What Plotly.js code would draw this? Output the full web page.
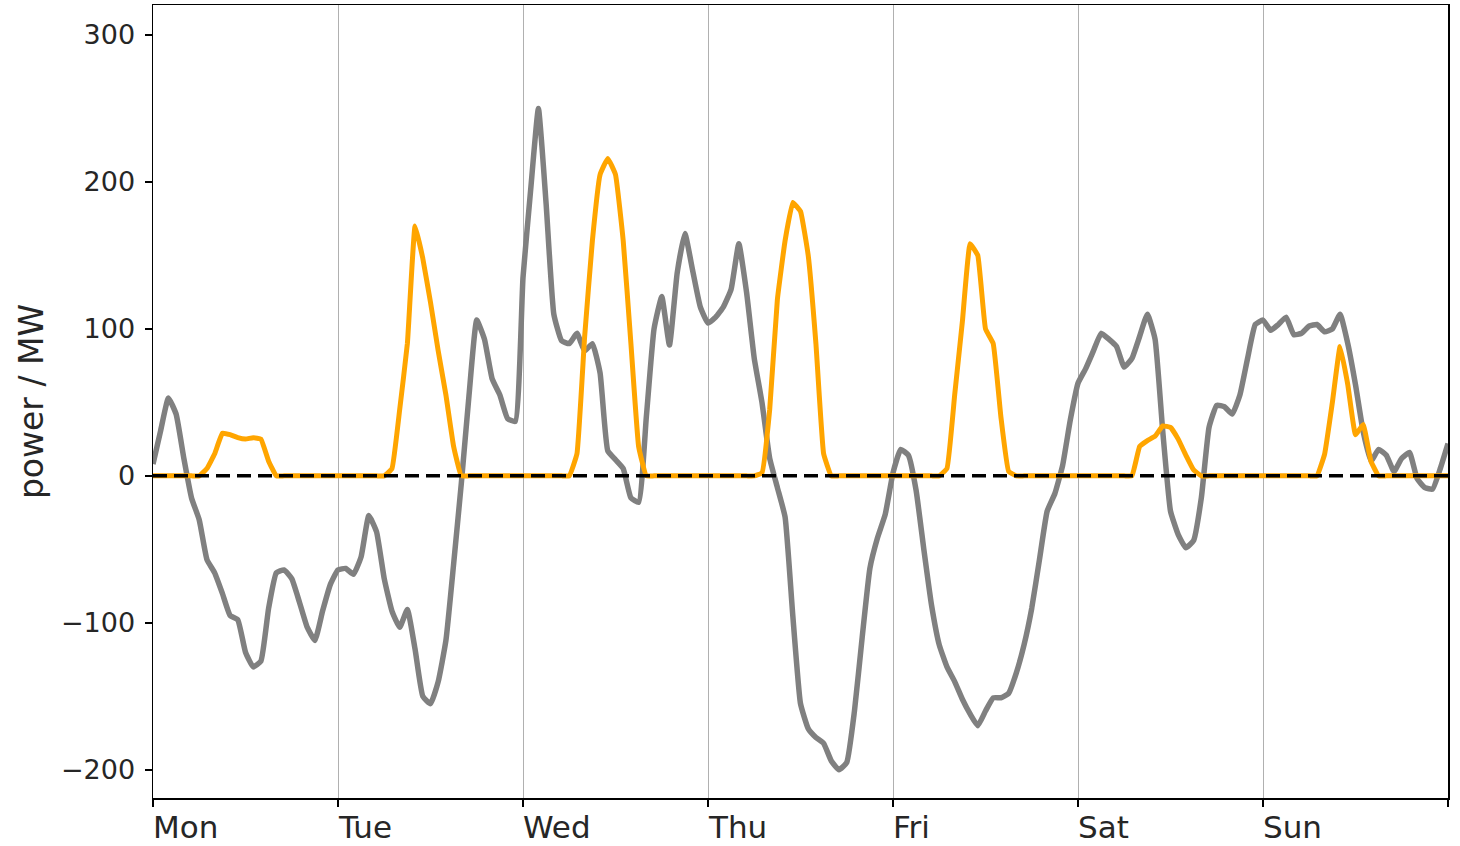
<!DOCTYPE html>
<html>
<head>
<meta charset="utf-8">
<script src="https://cdn.plot.ly/plotly-3.0.1.min.js"></script>
<style>
html, body { margin: 0; padding: 0; background: #ffffff; }
#chart { width: 1460px; height: 846px; }
</style>
</head>
<body>
<div id="chart"></div>
<script>
// Day labels and tick positions (hours from Monday 00:00)
const dayLabels = ['Mon', 'Tue', 'Wed', 'Thu', 'Fri', 'Sat', 'Sun'];
const dayTicks = [0, 24, 48, 72, 96, 120, 144, 168];

// y-axis ticks
const yTickVals = [-200, -100, 0, 100, 200, 300];
const yTickText = ['\u2212200', '\u2212100', '0', '100', '200', '300'];

// Grey series: net power, hourly (MW), Mon 00:00 .. next Mon 00:00
const netPower = [
  8, 31, 53, 42, 12, -15, -30, -57, -66, -80, -95, -98, -120, -130, -126, -90, -66, -64, -70, -86, -103, -112, -92, -74,
  -64, -63, -67, -55, -27, -38, -70, -92, -103, -91, -118, -150, -155, -140, -112, -60, -5, 55, 106, 93, 66, 55, 39, 37,
  135, 195, 250, 185, 110, 92, 90, 97, 85, 90, 70, 17, 11, 5, -15, -18, 40, 100, 122, 89, 138, 165, 140, 115,
  104, 108, 115, 127, 158, 125, 80, 50, 12, -8, -28, -95, -155, -172, -178, -182, -194, -200, -195, -160, -110, -63, -42, -26,
  2, 18, 14, -10, -50, -88, -115, -130, -140, -152, -162, -170, -160, -151, -151, -148, -134, -115, -90, -57, -24, -12, 7, 38,
  63, 73, 85, 97, 93, 88, 74, 80, 95, 110, 93, 30, -24, -40, -49, -44, -15, 33, 48, 47, 42, 55, 80, 103,
  106, 99, 103, 108, 96, 97, 102, 103, 98, 100, 110, 90, 62, 30, 10, 18, 14, 3, 12, 16, -2, -8, -9, 5,
  22
];

// Orange series: PV power, hourly (MW)
const pvPower = [
  0, 0, 0, 0, 0, 0, 0, 5, 15, 29, 28, 26, 25, 26, 25, 10, 0, 0, 0, 0, 0, 0, 0, 0,
  0, 0, 0, 0, 0, 0, 0, 5, 45, 90, 170, 148, 118, 85, 55, 20, 0, 0, 0, 0, 0, 0, 0, 0,
  0, 0, 0, 0, 0, 0, 0, 15, 95, 160, 205, 216, 205, 160, 90, 20, 0, 0, 0, 0, 0, 0, 0, 0,
  0, 0, 0, 0, 0, 0, 0, 2, 45, 120, 160, 186, 180, 150, 90, 15, 0, 0, 0, 0, 0, 0, 0, 0,
  0, 0, 0, 0, 0, 0, 0, 5, 55, 105, 158, 150, 100, 90, 40, 3, 0, 0, 0, 0, 0, 0, 0, 0,
  0, 0, 0, 0, 0, 0, 0, 0, 20, 24, 27, 34, 33, 25, 14, 4, 0, 0, 0, 0, 0, 0, 0, 0,
  0, 0, 0, 0, 0, 0, 0, 0, 15, 50, 88, 62, 28, 35, 10, 0, 0, 0, 0, 0, 0, 0, 0, 0,
  0
];

const hours = netPower.map((_, i) => i);

const FONT = 'DejaVu Sans, sans-serif';
const TXT = '#262626';

const traces = [
  {
    x: hours, y: netPower, type: 'scatter', mode: 'lines',
    line: { color: '#808080', width: 5.5, shape: 'spline', smoothing: 0.4 },
    hoverinfo: 'skip', showlegend: false
  },
  {
    x: hours, y: pvPower, type: 'scatter', mode: 'lines',
    line: { color: '#FFA500', width: 5, shape: 'spline', smoothing: 0.3 },
    hoverinfo: 'skip', showlegend: false
  }
];

const annotations = dayLabels.map((d, i) => ({
  x: dayTicks[i], xref: 'x', y: 0, yref: 'paper',
  xanchor: 'left', yanchor: 'top', yshift: -9, xshift: -2,
  text: d, showarrow: false,
  font: { family: FONT, size: 31, color: TXT }
}));

const layout = {
  width: 1460, height: 846,
  margin: { l: 153, r: 12, t: 5, b: 48, pad: 0 },
  paper_bgcolor: '#ffffff', plot_bgcolor: '#ffffff',
  showlegend: false,
  font: { family: FONT, color: TXT },
  xaxis: {
    range: [0, 168],
    tickmode: 'array', tickvals: dayTicks,
    showticklabels: false,
    ticks: 'outside', ticklen: 7, tickwidth: 1.5, tickcolor: '#000000',
    showgrid: true, gridcolor: '#b0b0b0', gridwidth: 1,
    zeroline: false,
    showline: true, mirror: true, linecolor: '#000000', linewidth: 1.5
  },
  yaxis: {
    range: [-219.2, 320.4],
    tickmode: 'array', tickvals: yTickVals, ticktext: yTickText,
    ticks: 'outside', ticklen: 7, tickwidth: 1.5, tickcolor: '#000000',
    ticklabelstandoff: 4,
    tickfont: { family: FONT, size: 27, color: TXT },
    showgrid: false, zeroline: false,
    showline: true, mirror: true, linecolor: '#000000', linewidth: 1.5,
    title: { text: 'power / MW', font: { family: FONT, size: 33, color: TXT }, standoff: 7 }
  },
  shapes: [
    {
      type: 'line', xref: 'paper', x0: 0, x1: 1, yref: 'y', y0: 0, y1: 0,
      line: { color: '#000000', width: 3.5, dash: '14px,7px' },
      layer: 'above'
    }
  ],
  annotations: annotations
};

Plotly.newPlot('chart', traces, layout, { staticPlot: true, displayModeBar: false });
</script>
</body>
</html>
